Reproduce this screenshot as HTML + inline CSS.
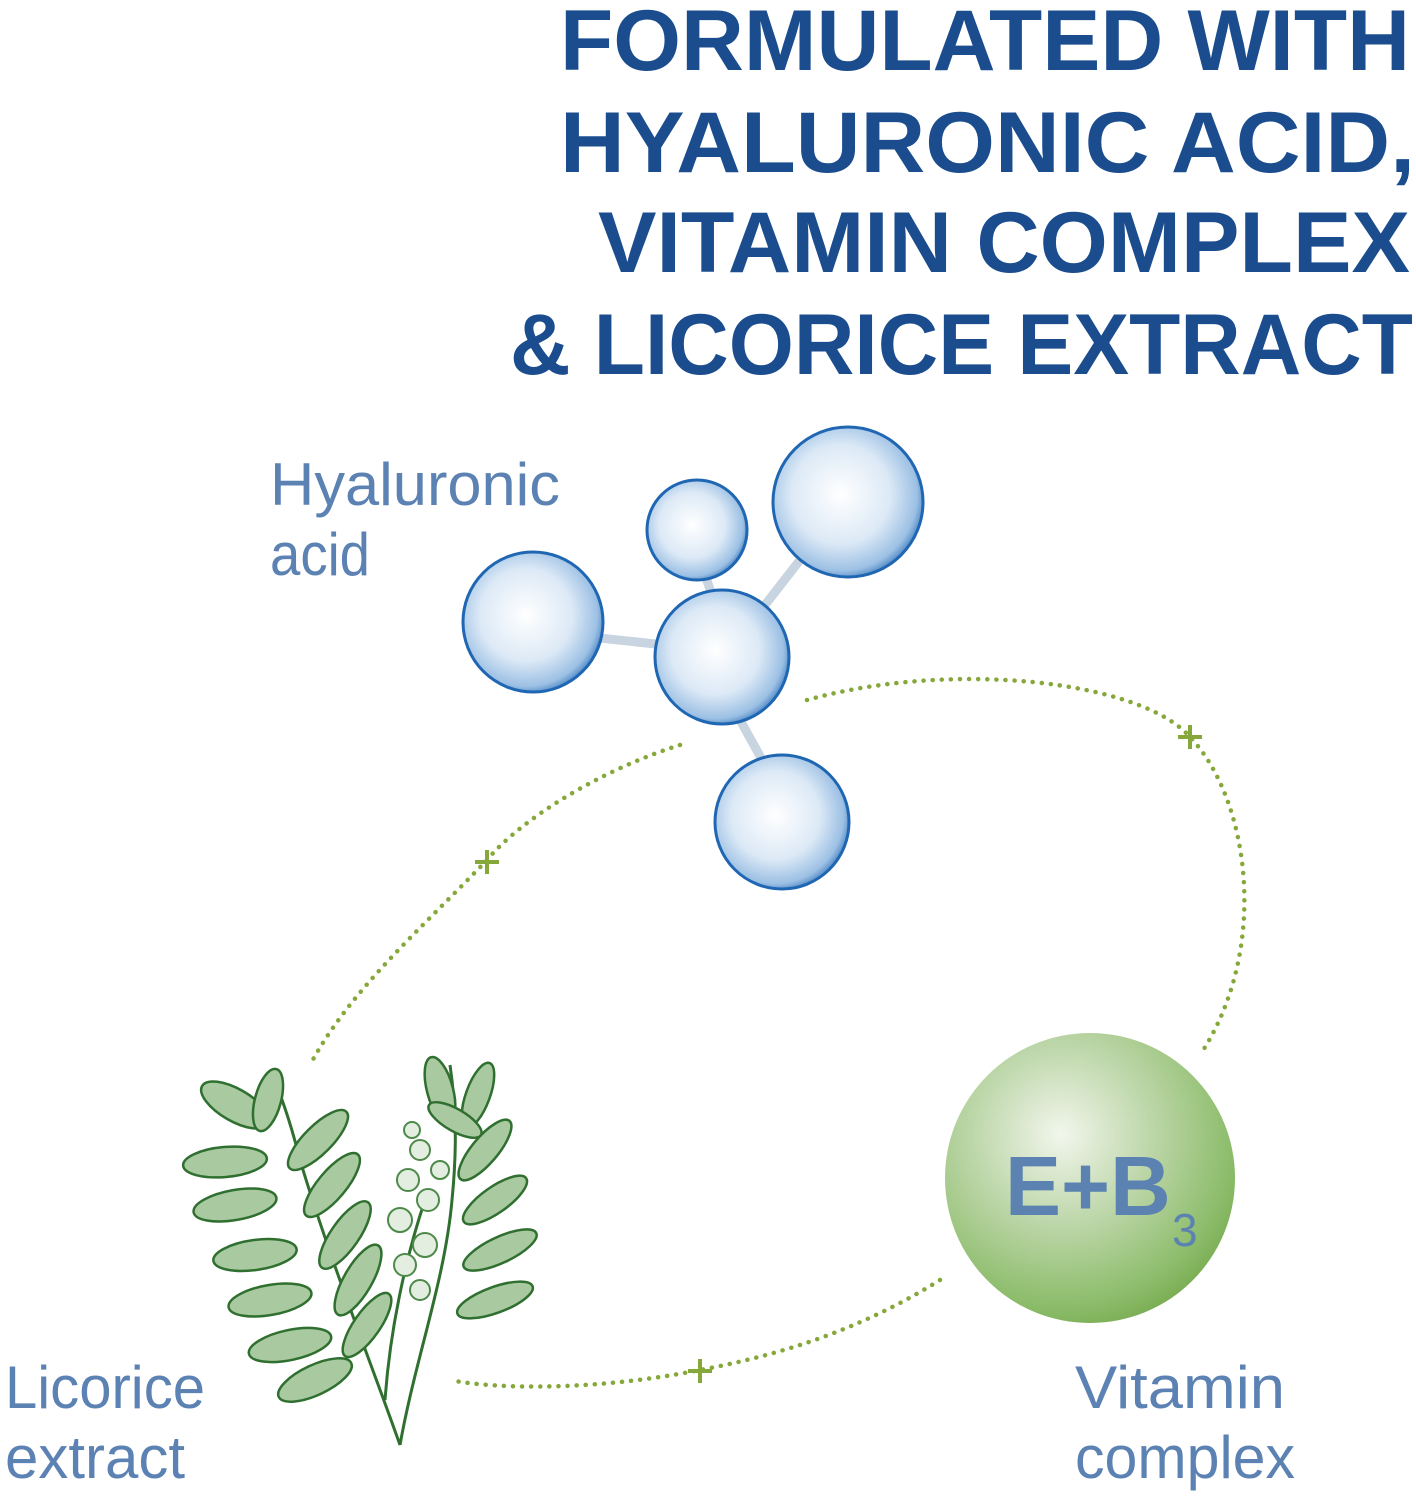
<!DOCTYPE html>
<html><head><meta charset="utf-8"><style>
html,body{margin:0;padding:0;background:#fff}
svg{display:block}
</style></head><body>
<svg width="1416" height="1500" viewBox="0 0 1416 1500" xmlns="http://www.w3.org/2000/svg">
<defs>
<radialGradient id="bub" cx="0.45" cy="0.45" r="0.6">
<stop offset="0" stop-color="#ffffff"/>
<stop offset="0.55" stop-color="#dce9f6"/>
<stop offset="0.85" stop-color="#9cc0e4"/>
<stop offset="1" stop-color="#2c6fb8"/>
</radialGradient>
<radialGradient id="grn" cx="0.4" cy="0.35" r="0.7">
<stop offset="0" stop-color="#f2f6ec"/>
<stop offset="0.45" stop-color="#bcd6a8"/>
<stop offset="0.85" stop-color="#8cbc6a"/>
<stop offset="1" stop-color="#77ab4f"/>
</radialGradient>
</defs>
<g font-family="Liberation Sans, sans-serif" font-weight="bold" fill="#1b4d8e" font-size="86">
<text x="560" y="70" textLength="850" lengthAdjust="spacingAndGlyphs">FORMULATED WITH</text>
<text x="560" y="172" textLength="855" lengthAdjust="spacingAndGlyphs">HYALURONIC ACID,</text>
<text x="598" y="272" textLength="812" lengthAdjust="spacingAndGlyphs">VITAMIN COMPLEX</text>
<text x="510" y="374" textLength="903" lengthAdjust="spacingAndGlyphs">&amp; LICORICE EXTRACT</text>
</g>
<g font-family="Liberation Sans, sans-serif" fill="#5c82b3" font-size="60">
<text x="270" y="505" textLength="290" lengthAdjust="spacingAndGlyphs">Hyaluronic</text>
<text x="270" y="575" textLength="100" lengthAdjust="spacingAndGlyphs">acid</text>
<text x="5" y="1408" textLength="200" lengthAdjust="spacingAndGlyphs">Licorice</text>
<text x="5" y="1478" textLength="180" lengthAdjust="spacingAndGlyphs">extract</text>
<text x="1075" y="1408" textLength="210" lengthAdjust="spacingAndGlyphs">Vitamin</text>
<text x="1075" y="1478" textLength="220" lengthAdjust="spacingAndGlyphs">complex</text>
</g>
<g fill="none" stroke="#86a83a" stroke-width="4.5" stroke-linecap="round" stroke-dasharray="0.1 9">
<path d="M807 700 C 950 660, 1140 680, 1190 737 C 1250 800, 1270 950, 1200 1055"/>
<path d="M680 745 C 600 770, 520 820, 487 860 C 420 930, 350 990, 310 1065"/>
<path d="M940 1280 C 860 1330, 780 1355, 700 1370 C 600 1390, 500 1390, 450 1380"/>
</g>
<g stroke="#86a83a" stroke-width="4">
<path d="M1178 737h24M1190 725v24"/>
<path d="M475 862h24M487 850v24"/>
<path d="M688 1371h24M700 1359v24"/>
</g>
<g stroke="#c8d4e0" stroke-width="9" stroke-linecap="round">
<line x1="590" y1="637" x2="665" y2="645"/>
<line x1="705" y1="575" x2="712" y2="595"/>
<line x1="765" y1="605" x2="800" y2="560"/>
<line x1="740" y1="720" x2="765" y2="765"/>
</g>
<g stroke="#1f66b3" stroke-width="3">
<circle cx="533" cy="622" r="70" fill="url(#bub)"/>
<circle cx="697" cy="530" r="50" fill="url(#bub)"/>
<circle cx="848" cy="502" r="75" fill="url(#bub)"/>
<circle cx="722" cy="657" r="67" fill="url(#bub)"/>
<circle cx="782" cy="822" r="67" fill="url(#bub)"/>
</g>
<circle cx="1090" cy="1178" r="145" fill="url(#grn)"/>
<text x="1005" y="1215" font-family="Liberation Sans, sans-serif" font-weight="bold" font-size="84" fill="#5b82b0">E+B</text>
<text x="1172" y="1246" font-family="Liberation Sans, sans-serif" font-size="46" fill="#5b82b0">3</text>
<g stroke="#2f6f2f" stroke-width="3" fill="none">
<path d="M400 1445 C 370 1360, 330 1260, 300 1160 C 290 1120, 282 1100, 275 1080"/>
<path d="M400 1445 C 415 1360, 445 1280, 452 1200 C 458 1140, 455 1100, 450 1065"/>
<path d="M385 1400 C 390 1330, 405 1260, 425 1200"/>
</g>
<g stroke="#2f6f2f" stroke-width="2.5" fill="#a9c9a0">
<ellipse cx="235" cy="1105" rx="38" ry="16" transform="rotate(30 235 1105)"/>
<ellipse cx="268" cy="1100" rx="32" ry="13" transform="rotate(-75 268 1100)"/>
<ellipse cx="225" cy="1162" rx="42" ry="15" transform="rotate(-5 225 1162)"/>
<ellipse cx="235" cy="1205" rx="42" ry="15" transform="rotate(-10 235 1205)"/>
<ellipse cx="255" cy="1255" rx="42" ry="15" transform="rotate(-8 255 1255)"/>
<ellipse cx="270" cy="1300" rx="42" ry="15" transform="rotate(-10 270 1300)"/>
<ellipse cx="290" cy="1345" rx="42" ry="15" transform="rotate(-12 290 1345)"/>
<ellipse cx="315" cy="1380" rx="40" ry="15" transform="rotate(-25 315 1380)"/>
<ellipse cx="318" cy="1140" rx="40" ry="14" transform="rotate(-45 318 1140)"/>
<ellipse cx="332" cy="1185" rx="40" ry="14" transform="rotate(-50 332 1185)"/>
<ellipse cx="345" cy="1235" rx="40" ry="14" transform="rotate(-55 345 1235)"/>
<ellipse cx="358" cy="1280" rx="40" ry="14" transform="rotate(-60 358 1280)"/>
<ellipse cx="367" cy="1325" rx="38" ry="13" transform="rotate(-55 367 1325)"/>
<ellipse cx="440" cy="1090" rx="34" ry="13" transform="rotate(75 440 1090)"/>
<ellipse cx="478" cy="1095" rx="34" ry="12" transform="rotate(-70 478 1095)"/>
<ellipse cx="485" cy="1150" rx="38" ry="13" transform="rotate(-50 485 1150)"/>
<ellipse cx="495" cy="1200" rx="38" ry="13" transform="rotate(-35 495 1200)"/>
<ellipse cx="500" cy="1250" rx="40" ry="13" transform="rotate(-25 500 1250)"/>
<ellipse cx="495" cy="1300" rx="40" ry="13" transform="rotate(-20 495 1300)"/>
<ellipse cx="455" cy="1120" rx="30" ry="11" transform="rotate(30 455 1120)"/>
</g>
<g stroke="#4d8a4a" stroke-width="2" fill="#e3eee0">
<circle cx="420" cy="1150" r="10"/><circle cx="408" cy="1180" r="11"/>
<circle cx="428" cy="1200" r="11"/><circle cx="400" cy="1220" r="12"/>
<circle cx="425" cy="1245" r="12"/><circle cx="405" cy="1265" r="11"/>
<circle cx="420" cy="1290" r="10"/><circle cx="440" cy="1170" r="9"/>
<circle cx="412" cy="1130" r="8"/>
</g>
</svg>
</body></html>
